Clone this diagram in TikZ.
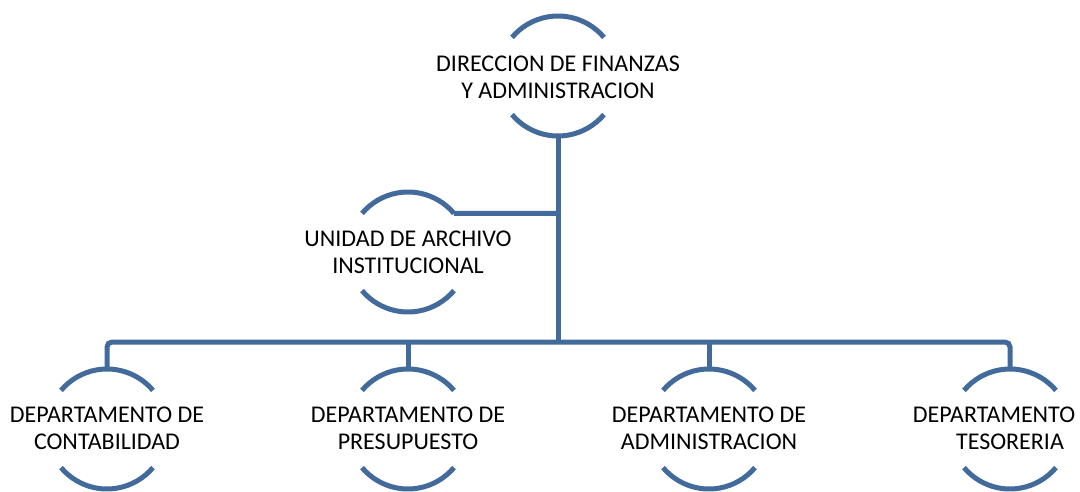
\documentclass[tikz,border=0pt]{standalone}
\usepackage{fontspec}
\setmainfont{Carlito}
\definecolor{orgblue}{RGB}{66,106,155}
\begin{document}
\begin{tikzpicture}[x=1pt,y=1pt,
  conn/.style={draw=orgblue,line width=5pt},
  ring/.style={draw=orgblue,line width=5pt},
  lbl/.style={align=center,inner sep=0pt,font=\fontsize{24}{27}\selectfont,text=black}]
\useasboundingbox (0,0) rectangle (1080,491);
% centres
\coordinate (cT) at (558,415);
\coordinate (cU) at (408,239);
\coordinate (c1) at (107,62);
\coordinate (c2) at (408,62);
\coordinate (c3) at (709,62);
\coordinate (c4) at (1010,62);
% texts
\node[lbl] (tT) at ([yshift=-1pt]cT) {DIRECCION DE FINANZAS\\Y ADMINISTRACION};
\node[lbl] (tU) at (cU) {UNIDAD DE ARCHIVO\\INSTITUCIONAL};
\node[lbl] (t1) at ([yshift=1pt]c1) {DEPARTAMENTO DE\\CONTABILIDAD};
\node[lbl] (t2) at ([yshift=1pt]c2) {DEPARTAMENTO DE\\PRESUPUESTO};
\node[lbl] (t3) at ([yshift=1pt]c3) {DEPARTAMENTO DE\\ADMINISTRACION};
\node[lbl] (t4) at ([yshift=1pt]c4) {DEPARTAMENTO\hphantom{ DE}\\TESORERIA};
% arcs
\foreach \c in {cT,cU,c1,c2,c3,c4}{
  \draw[ring] ([shift={(40:60)}]\c) arc[start angle=40,end angle=140,radius=60];
  \draw[ring] ([shift={(220:60)}]\c) arc[start angle=220,end angle=320,radius=60];
}
% connection points
\coordinate (cT-s) at ([shift={(270:60)}]cT);
\coordinate (cU-e) at ([shift={(40:60)}]cU);
\coordinate (c1-n) at ([shift={(90:60)}]c1);
\coordinate (c2-n) at ([shift={(90:60)}]c2);
\coordinate (c3-n) at ([shift={(90:60)}]c3);
\coordinate (c4-n) at ([shift={(90:60)}]c4);
\coordinate (bus) at (558,149);
\coordinate (br) at (558,277.6);
% connectors
\draw[conn] (cT-s) -- (bus);
\draw[conn] (cU-e) -- (br);
\draw[conn,rounded corners=5pt] (c1-n) |- (bus) -| (c4-n);
\draw[conn] (c2-n) -- (c2-n |- bus);
\draw[conn] (c3-n) -- (c3-n |- bus);
\end{tikzpicture}
\end{document}
